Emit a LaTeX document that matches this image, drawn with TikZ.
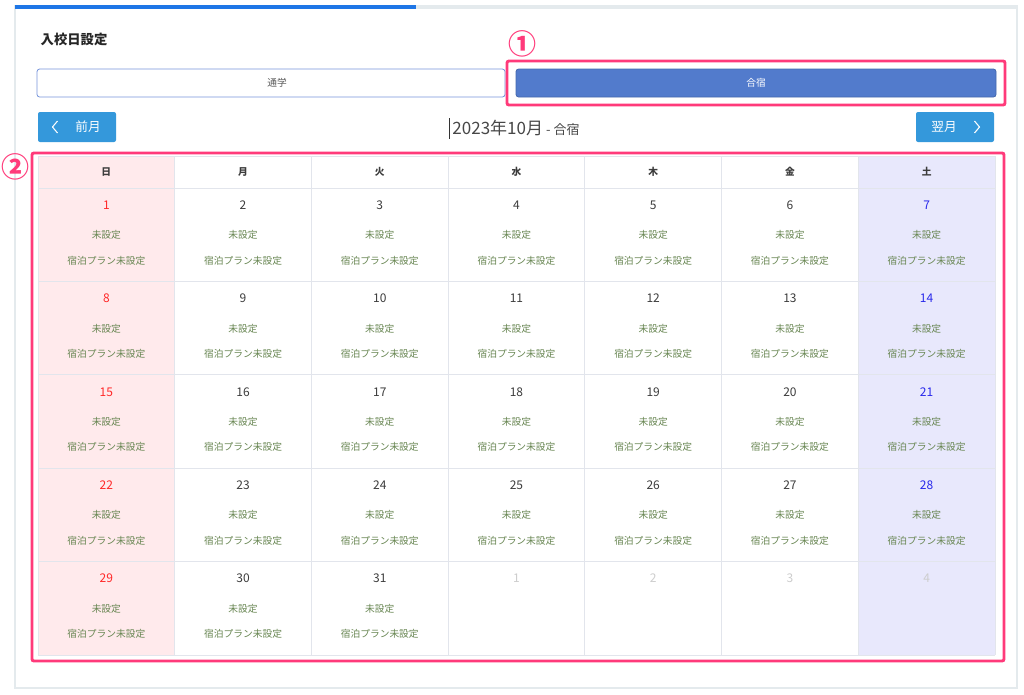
\documentclass[tikz,border=0pt]{standalone}
\usepackage{fontspec}
\setmainfont{Noto Sans CJK JP}
\definecolor{markpink}{RGB}{255,58,122}
\definecolor{cardline}{RGB}{228,234,237}
\definecolor{gridline}{RGB}{226,229,236}
\definecolor{barblue}{RGB}{30,118,230}
\definecolor{tabblue}{RGB}{82,123,204}
\definecolor{tabline}{RGB}{120,150,220}
\definecolor{btnblue}{RGB}{52,152,219}
\definecolor{sunfill}{RGB}{255,234,236}
\definecolor{satfill}{RGB}{232,232,252}
\definecolor{sunred}{RGB}{255,40,40}
\definecolor{satblue}{RGB}{40,40,235}
\definecolor{daytext}{RGB}{60,60,60}
\definecolor{othertext}{RGB}{205,205,205}
\definecolor{statusgreen}{RGB}{104,134,82}

\begin{document}
\begin{tikzpicture}[x=0.75pt,y=-0.75pt,
	cellnum/.style={font=\fontsize{9pt}{10pt}\selectfont},
	status/.style={font=\fontsize{7.3pt}{9pt}\selectfont, text=statusgreen},
	weekday/.style={font=\fontsize{7.3pt}{9pt}\selectfont\bfseries, text=daytext},
	navbtn/.style={fill=btnblue, rounded corners=1.5pt},
	marker/.style={draw=markpink, line width=2.2pt, rounded corners=1.5pt},
	markno/.style={text=markpink, font=\fontsize{21pt}{22pt}\selectfont\bfseries, inner sep=0pt}]
	\useasboundingbox (0,0) rectangle (1024,694);
	\fill[white] (0,0) rectangle (1024,694);

	% card
	\draw[cardline, line width=0.8pt] (15,6) rectangle (1017,688);
	\fill[cardline] (416,5) rectangle (1017,9);
	\fill[barblue] (15,5) rectangle (416,9);
	\node[anchor=west, font=\fontsize{10pt}{12pt}\selectfont\bfseries, text=black!85] (title) at (36,39) {入校日設定};

	% tabs
	\draw[tabline, line width=0.6pt, rounded corners=2pt, fill=white] (37,69) rectangle (505,97);
	\node[font=\fontsize{7.3pt}{9pt}\selectfont, text=black!65] (tabcommute) at (277,83) {通学};
	\draw[tabblue!85!black, line width=0.6pt, rounded corners=2pt, fill=tabblue] (516,69) rectangle (996,97);
	\node[font=\fontsize{7.3pt}{9pt}\selectfont, text=white] (tabcamp) at (756,83) {合宿};

	% month navigation
	\fill[navbtn] (38,112) rectangle (116,142);
	\draw[white, line width=0.8pt] (57.5,121) -- (52.5,127) -- (57.5,133);
	\node[font=\fontsize{9.5pt}{11pt}\selectfont, text=white] (prevmonth) at (88,127) {前月};
	\fill[navbtn] (916,112) rectangle (994,142);
	\draw[white, line width=0.8pt] (974.5,121) -- (979.5,127) -- (974.5,133);
	\node[font=\fontsize{9.5pt}{11pt}\selectfont, text=white] (nextmonth) at (944,127) {翌月};
	\node[text=black!72, inner sep=0pt] (month) at (516,128) {{\fontsize{12.75pt}{14pt}\selectfont 2023年10月} {\fontsize{9.75pt}{12pt}\selectfont - 合宿}};
	\draw[black!80, line width=0.6pt] (449,118) -- (449,139);

	% calendar
	\fill[sunfill] (38,156) rectangle (174.7,655);
	\fill[satfill] (858.3,156) rectangle (995,655);
	\foreach \c in {0,...,7}
		\draw[gridline, line width=0.7pt] (38+\c*136.71,156) -- (38+\c*136.71,655);
	\draw[gridline, line width=0.7pt] (38,156) -- (995,156);
	\foreach \r in {0,...,5}
		\draw[gridline, line width=0.7pt] (38,188+\r*93.4) -- (995,188+\r*93.4);

	\foreach \w [count=\c from 0] in {日,月,火,水,木,金,土}
		\node[weekday] (head\c) at (106.35+\c*136.71,172) {\w};

	\foreach \r in {0,...,4}
		\foreach \c in {0,...,6} {
			\pgfmathtruncatemacro\d{7*\r+\c+1}
			\pgfmathsetmacro\cx{106.35+\c*136.71}
			\pgfmathsetmacro\cy{188+\r*93.4}
			\ifnum\d>31
				\pgfmathtruncatemacro\n{\d-31}
				\node[cellnum, text=othertext] (next\n) at (\cx,\cy+17) {\n};
			\else
				\ifnum\c=0 \def\numcol{sunred}\else\ifnum\c=6 \def\numcol{satblue}\else\def\numcol{daytext}\fi\fi
				\node[cellnum, text=\numcol] (day\d) at (\cx,\cy+17) {\d};
				\node[status] (unset\d) at (\cx,\cy+47) {未設定};
				\node[status] (plan\d) at (\cx,\cy+72.5) {宿泊プラン未設定};
			\fi
		}

	% markers
	\draw[marker] (507,61) rectangle (1005,105);
	\node[markno] (mark1) at (522,44) {①};
	\draw[marker] (32,153) rectangle (1004,661);
	\node[markno] (mark2) at (16,167) {②};
\end{tikzpicture}
\end{document}
